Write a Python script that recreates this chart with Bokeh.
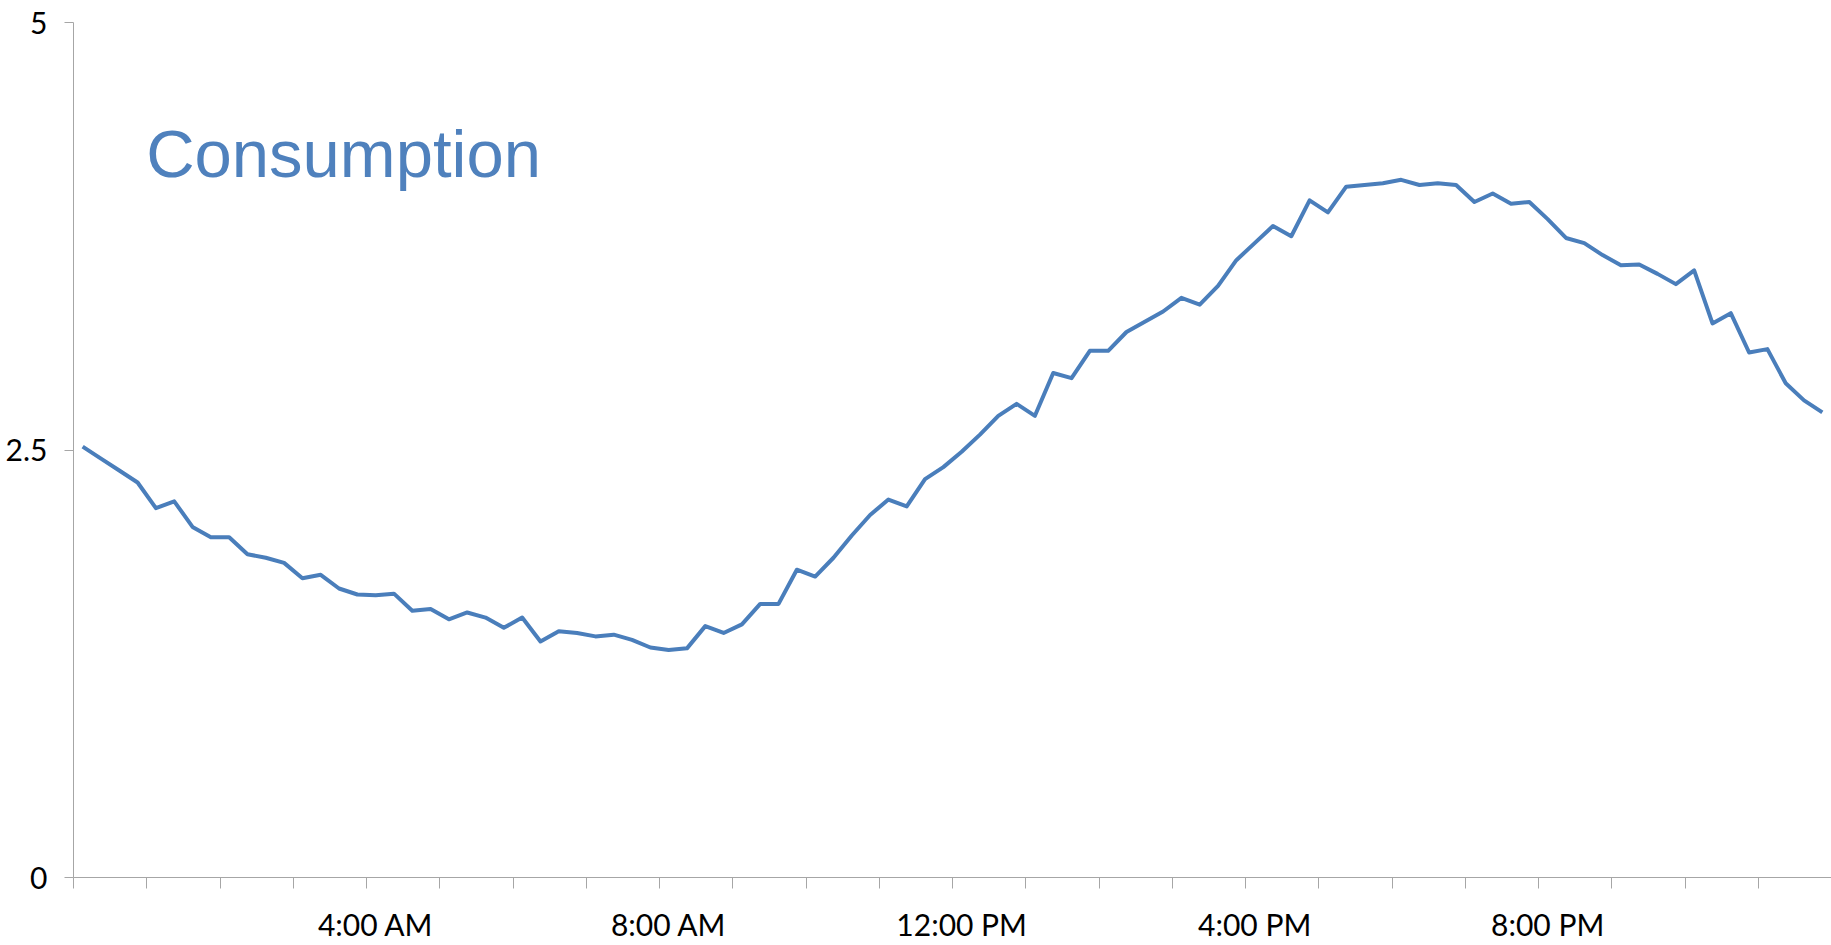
from bokeh.plotting import figure
from bokeh.models import FixedTicker, NumeralTickFormatter, Label, Range1d
from bokeh.embed import file_html
from bokeh.resources import INLINE

# 15-minute consumption readings, 96 per day starting at 12:00 AM
consumption = [
    2.52, 2.45, 2.38, 2.31, 2.16, 2.20, 2.05, 1.99, 1.99, 1.89, 1.87, 1.84,
    1.75, 1.77, 1.69, 1.655, 1.65, 1.66, 1.56, 1.57, 1.51, 1.55, 1.52, 1.46,
    1.52, 1.38, 1.44, 1.43, 1.41, 1.42, 1.39, 1.345, 1.33, 1.34, 1.47, 1.43,
    1.48, 1.60, 1.60, 1.80, 1.76, 1.87, 2.00, 2.12, 2.21, 2.17, 2.33, 2.40,
    2.49, 2.59, 2.70, 2.77, 2.70, 2.95, 2.92, 3.08, 3.08, 3.19, 3.25, 3.31,
    3.39, 3.35, 3.46, 3.61, 3.71, 3.81, 3.75, 3.96, 3.89, 4.04, 4.05, 4.06,
    4.08, 4.05, 4.06, 4.05, 3.95, 4.00, 3.94, 3.95, 3.85, 3.74, 3.71, 3.64,
    3.58, 3.585, 3.53, 3.47, 3.55, 3.24, 3.30, 3.07, 3.09, 2.89, 2.79, 2.72,
]
slot = list(range(len(consumption)))

x_tick_labels = ["4:00 AM", "8:00 AM", "12:00 PM", "4:00 PM", "8:00 PM"]
x_label_slots = [16, 32, 48, 64, 80]
y_ticks = [0, 2.5, 5]

AXIS_FONT = "Lato"
AXIS_GRAY = "#a6a6a6"

p = figure(width=1831, height=945, output_backend="svg", toolbar_location=None,
           x_range=Range1d(-0.5, 95.5), y_range=Range1d(0, 5),
           min_border_left=73, min_border_right=0, min_border_top=22,
           min_border_bottom=68)
p.outline_line_color = None
p.xgrid.visible = False
p.ygrid.visible = False
p.background_fill_color = "white"
p.border_fill_color = "white"

p.line(slot, consumption, line_color="#4a7ebb", line_width=4, line_join="round")

# x axis: hourly tick marks, labels every 4 hours
hour_marks = [h * 4 - 0.5 for h in range(25)]
xa = p.xaxis[0]
xa.ticker = FixedTicker(ticks=x_label_slots, minor_ticks=hour_marks)
xa.major_label_overrides = {s: t for s, t in zip(x_label_slots, x_tick_labels)}
xa.major_tick_out = 0
xa.major_tick_in = 0
xa.minor_tick_out = 11
xa.minor_tick_in = 0
xa.minor_tick_line_color = AXIS_GRAY
xa.axis_line_color = AXIS_GRAY
xa.major_label_text_font = AXIS_FONT
xa.major_label_text_font_size = "30px"
xa.major_label_text_color = "black"
xa.major_label_standoff = 17

ya = p.yaxis[0]
ya.ticker = FixedTicker(ticks=y_ticks, minor_ticks=[])
ya.formatter = NumeralTickFormatter(format="0.[0]")
ya.major_tick_out = 9
ya.major_tick_in = 0
ya.major_tick_line_color = AXIS_GRAY
ya.axis_line_color = AXIS_GRAY
ya.major_label_text_font = AXIS_FONT
ya.major_label_text_font_size = "30px"
ya.major_label_text_color = "black"
ya.major_label_standoff = 17

title = Label(x=3.47, y=4.234, text="Consumption", text_font="Liberation Sans",
              text_font_size="67px", text_color="#4f81bd",
              text_align="left", text_baseline="alphabetic")
p.add_layout(title)

open("out.html", "w").write(file_html(p, INLINE))
